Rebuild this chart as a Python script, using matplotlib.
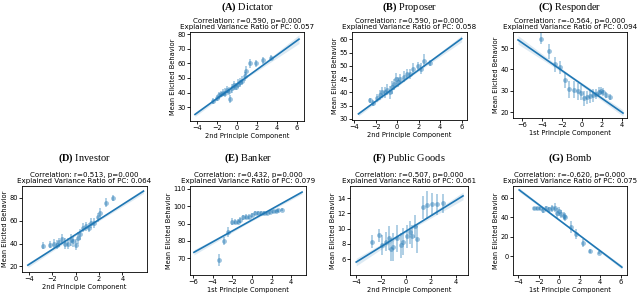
import numpy as np
import matplotlib
matplotlib.use("Agg")
import matplotlib.pyplot as plt

plt.rcParams['font.family'] = 'DejaVu Sans'
plt.rcParams['mathtext.fontset'] = 'custom'
plt.rcParams['mathtext.rm'] = 'Liberation Serif'
plt.rcParams['mathtext.bf'] = 'Liberation Serif:bold'

# ---- data ----
names = ["(A)|Dictator", "(B)|Proposer", "(C)|Responder", "(D)|Investor",
         "(E)|Banker", "(F)|Public Goods", "(G)|Bomb"]
corr = ["r=0.590", "r=0.590", "r=-0.564", "r=0.513", "r=0.432", "r=0.507", "r=-0.620"]
evr = ["0.057", "0.058", "0.094", "0.064", "0.079", "0.061", "0.075"]
xlabels = ["2nd Principle Component", "2nd Principle Component", "1st Principle Component",
           "2nd Principle Component", "1st Principle Component", "2nd Principle Component",
           "1st Principle Component"]

# binned points: x, mean y, CI half length
a_x = [-2.4, -2.0, -1.8, -1.6, -1.4, -1.2, -1.0, -0.8, -0.7, -0.5, -0.3, -0.1, 0.1, 0.3, 0.5, 0.8, 0.9, 1.3, 1.9, 2.6, 3.4]
a_y = [34, 36, 38, 39, 40, 40, 42, 41, 35.5, 43, 45, 44, 46, 47, 48, 51, 55, 60, 60, 62, 64]
a_e = [2, 2, 2.5, 2, 2.5, 3, 2.5, 3, 2.5, 3, 3, 2.5, 3, 3, 3, 3, 3, 3, 2.5, 2.5, 2]

b_x = [-2.5, -2.2, -1.9, -1.6, -1.4, -1.1, -0.9, -0.7, -0.5, -0.3, -0.1, 0.1, 0.3, 0.6, 0.9, 1.2, 1.5, 1.9, 2.2, 2.5, 3.1]
b_y = [37, 36, 38, 39, 40, 40, 41, 40, 42, 43, 45, 44, 45, 46, 47, 47, 49, 50, 49, 52, 51]
b_e = [1, 1.2, 1.5, 2, 2, 2, 2, 2.5, 2.5, 2, 2.5, 2, 2, 2, 2, 2, 2, 1.5, 2, 2.5, 1.2]

c_x = [-4.1, -3.3, -2.7, -2.2, -1.7, -1.3, -0.8, -0.4, -0.1, 0.2, 0.5, 0.8, 1.1, 1.4, 1.7, 1.9, 2.1, 2.4, 2.8]
c_y = [54.3, 48.5, 42.5, 41, 35, 30.8, 30.5, 29.8, 29.2, 26.5, 27, 27.5, 28, 28.5, 29.5, 30, 29.5, 28, 27]
c_e = [2.5, 3.5, 3.5, 3, 3.5, 4, 4, 4, 3.5, 3.5, 3, 3, 3, 2.5, 2.5, 2, 2, 1.5, 1.5]

d_x = [-2.8, -2.2, -1.9, -1.6, -1.4, -1.2, -0.9, -0.7, -0.4, -0.2, 0.0, 0.2, 0.4, 0.6, 0.9, 1.1, 1.3, 1.6, 1.9, 2.1, 2.6, 3.2]
d_y = [38, 39, 40, 39, 41, 44, 40, 40, 43, 42, 39, 45, 48, 54, 55, 54, 58, 58, 63, 67, 76, 80]
d_e = [3, 3, 4, 4, 4, 4, 5, 5, 5, 5, 5, 5, 5, 4, 4, 4, 4, 4, 4, 4, 4, 3]

e_x = [-3.4, -2.8, -2.4, -2.0, -1.7, -1.4, -1.2, -0.9, -0.6, -0.3, 0.0, 0.3, 0.6, 0.9, 1.2, 1.5, 1.8, 2.1, 2.4, 2.7, 3.1]
e_y = [69, 80, 85, 91, 91, 91, 92, 93.5, 94, 94, 95, 96, 96, 96, 96, 96, 96.5, 97, 97, 97.5, 98]
e_e = [3.5, 2.5, 3, 2, 1.5, 1.5, 1.5, 1.2, 1.2, 1.2, 1, 1, 1, 1, 1, 1, 1, 1, 1, 1, 1]

f_x = [-2.7, -2.2, -1.9, -1.6, -1.4, -1.2, -1.0, -0.7, -0.4, -0.2, 0.1, 0.3, 0.5, 0.7, 0.9, 1.4, 1.7, 2.1, 2.5, 3.0]
f_y = [8.3, 9.1, 7.8, 8.3, 8.8, 7.3, 7.6, 8.7, 7.8, 8.3, 9.0, 9.5, 9.0, 10.3, 8.6, 12.8, 13.1, 13.2, 13.2, 13.3]
f_e = [0.8, 0.9, 1.3, 1.2, 1.6, 1.5, 1.8, 1.8, 1.6, 1.8, 1.5, 1.5, 1.5, 1.5, 1.8, 1.5, 1.8, 1.5, 1.4, 1.2]

g_x = [-2.5, -2.2, -1.9, -1.6, -1.3, -1.0, -0.7, -0.4, -0.2, 0.0, 0.2, 0.5, 0.6, 1.1, 1.6, 2.3, 3.0, 3.9]
g_y = [49, 49, 49, 47, 49, 48, 49, 50, 44, 46, 43, 41, 40, 30, 23, 14, 6, 4]
g_e = [2, 2, 2, 3, 3, 3, 4, 5, 5, 5, 4, 4, 4, 6, 5, 4, 2, 2]

# regression line ends and CI band half widths (start, middle, end)
lines_x = [[-4.2, 6.2], [-3.6, 6.0], [-6.4, 4.1], [-4.1, 5.8], [-5.9, 5.1], [-4.0, 4.6], [-3.9, 6.1]]
lines_y = [[25, 76.6], [31.9, 60.3], [53.8, 19.6], [21, 86], [73.5, 108], [5.6, 14.3], [68, -11]]
band_w = [[1.5, 0.6, 3.0], [0.8, 0.3, 1.2], [2.0, 0.6, 1.5], [2.0, 0.8, 2.0], [1.5, 0.5, 1.0], [0.5, 0.15, 0.5], [2.0, 0.6, 2.0]]

xlims = [(-4.7, 6.7), (-4.2, 6.5), (-6.9, 4.5), (-4.6, 6.1), (-6.3, 5.5), (-4.5, 5.0), (-4.5, 6.6)]
ylims = [(20.5, 81.5), (29.6, 62.8), (17.3, 57.5), (15, 90.5), (60.5, 111.5), (3.9, 15.6), (-19, 72)]
xticks = [[-4, -2, 0, 2, 4, 6], [-4, -2, 0, 2, 4, 6], [-6, -4, -2, 0, 2, 4], [-4, -2, 0, 2, 4],
          [-6, -4, -2, 0, 2, 4], [-4, -2, 0, 2, 4], [-4, -2, 0, 2, 4, 6]]
yticks = [[30, 40, 50, 60, 70, 80], [30, 35, 40, 45, 50, 55, 60], [20, 30, 40, 50], [20, 40, 60, 80],
          [70, 80, 90, 100, 110], [6, 8, 10, 12, 14], [0, 20, 40, 60]]

points = [(a_x, a_y, a_e), (b_x, b_y, b_e), (c_x, c_y, c_e), (d_x, d_y, d_e),
          (e_x, e_y, e_e), (f_x, f_y, f_e), (g_x, g_y, g_e)]

# axes boxes in pixels: left, top, right, bottom
boxes = [(190, 32, 304, 121), (352, 32, 467, 120), (513, 32, 627, 118),
         (22, 186, 147, 272), (190, 186, 306, 275), (350, 186, 468, 275), (513, 186, 627, 275)]

W, H = 640, 293
fig = plt.figure(figsize=(6.4, 2.93), dpi=100)
blue = '#1f77b4'

for i in range(7):
    l, t, r, b = boxes[i]
    ax = fig.add_axes([l / W, 1 - b / H, (r - l) / W, (b - t) / H])
    px, py, pe = points[i]
    ax.vlines(px, np.array(py) - np.array(pe), np.array(py) + np.array(pe),
              color=blue, alpha=0.45, lw=1.1)
    ax.scatter(px, py, s=12, color=blue, alpha=0.45, lw=0)
    lx, ly = lines_x[i], lines_y[i]
    bx = [lx[0], (lx[0] + lx[1]) / 2, lx[1]]
    by = [ly[0], (ly[0] + ly[1]) / 2, ly[1]]
    ax.fill_between(bx, np.array(by) - np.array(band_w[i]), np.array(by) + np.array(band_w[i]),
                    color=blue, alpha=0.15, lw=0)
    ax.plot(lx, ly, color=blue, lw=1.2)
    ax.set_xlim(xlims[i])
    ax.set_ylim(ylims[i])
    ax.set_xticks(xticks[i])
    ax.set_yticks(yticks[i])
    ax.tick_params(labelsize=4.8, length=2, width=0.6, pad=1)
    for sp in ax.spines.values():
        sp.set_linewidth(0.6)
    ax.set_xlabel(xlabels[i], fontsize=4.8, labelpad=1)
    ax.set_ylabel("Mean Elicited Behavior", fontsize=4.8, labelpad=1)
    ax.set_title(f"Correlation: {corr[i]}, p=0.000\nExplained Variance Ratio of PC: {evr[i]}",
                 fontsize=5.1, pad=2, linespacing=1.1)
    tag, name = names[i].split("|")
    ty = 1 - 0.5 / H if i < 3 else 1 - 152 / H
    fig.text((l + r) / 2 / W, ty, r"$\mathbf{" + tag + "}$ " + name,
             family='Liberation Serif', fontsize=7.5, ha='center', va='top')

fig.savefig("out.png", dpi=100)
